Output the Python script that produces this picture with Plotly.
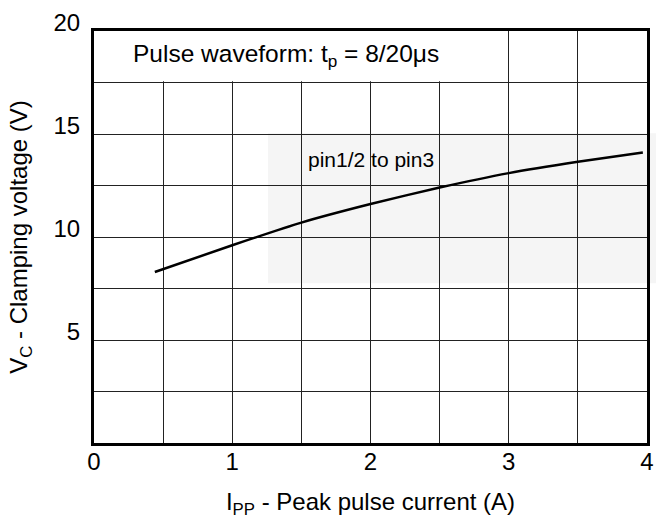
import plotly.graph_objects as go

# Data
current_a = [0.44, 1.0, 1.5, 2.0, 2.5, 3.0, 3.5, 3.97]
clamp_v = [8.3, 9.6, 10.7, 11.6, 12.4, 13.1, 13.65, 14.1]

x_tickvals = [0, 0.5, 1, 1.5, 2, 2.5, 3, 3.5, 4]
x_ticktext = ["0", "", "1", "", "2", "", "3", "", "4"]
y_tickvals = [0, 2.5, 5, 7.5, 10, 12.5, 15, 17.5, 20]
y_ticktext = ["", "", "5", "", "10", "", "15", "", "20"]

FONT = "Liberation Sans, Arial, sans-serif"

fig = go.Figure()
fig.add_trace(go.Scatter(
    x=current_a, y=clamp_v, mode="lines",
    line=dict(color="black", width=2.5, shape="spline", smoothing=0.6),
    showlegend=False, hoverinfo="skip",
))

# faint watermark behind the grid
fig.add_shape(type="rect", xref="paper", yref="paper",
              x0=0.3146, x1=1.02, y0=0.388, y1=0.752,
              fillcolor="#f5f5f5", line=dict(width=0), layer="below")

# white box behind the waveform note
fig.add_shape(type="rect", xref="x", yref="y",
              x0=0.15, x1=2.98, y0=17.56, y1=20,
              fillcolor="white", line=dict(width=0), layer="between")

fig.add_annotation(x=0.27, y=18.83, xref="x", yref="y", xanchor="left", yanchor="middle",
                   text="Pulse waveform: t<sub>p</sub> = 8/20μs", showarrow=False,
                   font=dict(family=FONT, size=24.5, color="black"))
fig.add_annotation(x=2.0, y=13.75, xref="x", yref="y", xanchor="center", yanchor="middle",
                   text="pin1/2 to pin3", showarrow=False,
                   font=dict(family=FONT, size=21, color="black"))

fig.update_layout(
    width=656, height=524,
    margin=dict(l=94, r=9, t=31, b=81, autoexpand=False),
    paper_bgcolor="white", plot_bgcolor="rgba(0,0,0,0)",
    font=dict(family=FONT, color="black"),
    xaxis=dict(range=[0, 4], tickvals=x_tickvals, ticktext=x_ticktext,
               showgrid=True, gridcolor="#222", gridwidth=1,
               showline=True, linecolor="black", linewidth=3, mirror=True,
               ticks="", zeroline=False, tickfont=dict(size=24), automargin=False,
               ticklabelstandoff=-5,
               title=dict(text="I<sub>PP</sub> - Peak pulse current (A)",
                          font=dict(size=24), standoff=20)),
    yaxis=dict(range=[0, 20], tickvals=y_tickvals, ticktext=y_ticktext,
               showgrid=True, gridcolor="#222", gridwidth=1,
               showline=True, linecolor="black", linewidth=3, mirror=True,
               ticks="", zeroline=False, tickfont=dict(size=24), automargin=False,
               ticklabelshift=-8, ticklabelstandoff=6,
               title=dict(text="V<sub>C</sub> - Clamping voltage (V)",
                          font=dict(size=24), standoff=20)),
)

fig.write_html("out.html", config={"displayModeBar": False},
               post_script="document.body.style.margin='0';document.body.style.padding='0';")
